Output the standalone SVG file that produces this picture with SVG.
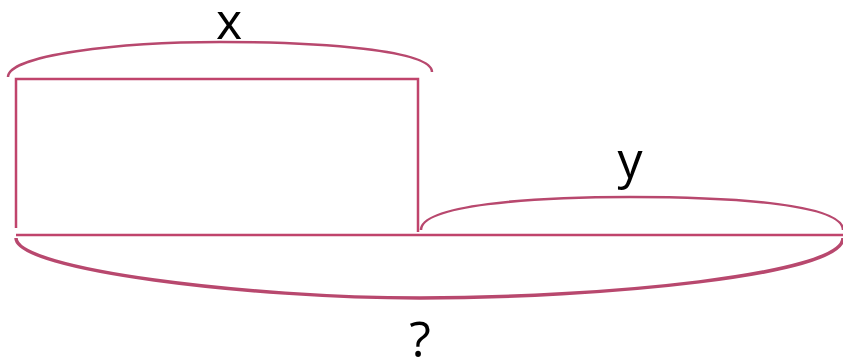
<svg xmlns="http://www.w3.org/2000/svg" width="843" height="362" viewBox="0 0 843 362">
<style>
.ln{fill:none;stroke:#c0446c;stroke-width:2.5}
.br{fill:none;stroke:#b8486e;stroke-width:2.5}
.lbl{font-family:"Open Sans","Noto Sans",sans-serif;font-size:50px;fill:#000;text-anchor:middle}
</style>
<rect width="843" height="362" fill="#fff"/>
<g id="shape-x">
<path class="ln" d="M16 228 V79 H418 V232"/>
</g>
<g id="baseline">
<path class="ln" d="M16 235 H843"/>
</g>
<g id="connectors">
<path id="brace-x" class="br" d="M8 77 C8 55 120 42 220 42 C320 42 432 50 432 72"/>
<path id="brace-y" class="br" d="M421 230 C421 205 530 197 630 197 C740 197 843 205 843 230"/>
<path id="brace-total" class="br" style="stroke-width:3.5" d="M16 238 C16 270 250 298 420 298 C600 298 843 275 843 238"/>
</g>
<g id="label-x"><text class="lbl" x="229" y="39">x</text></g>
<g id="label-y"><text class="lbl" x="630" y="178">y</text></g>
<g id="label-total"><text class="lbl" x="420" y="357">?</text></g>
</svg>
